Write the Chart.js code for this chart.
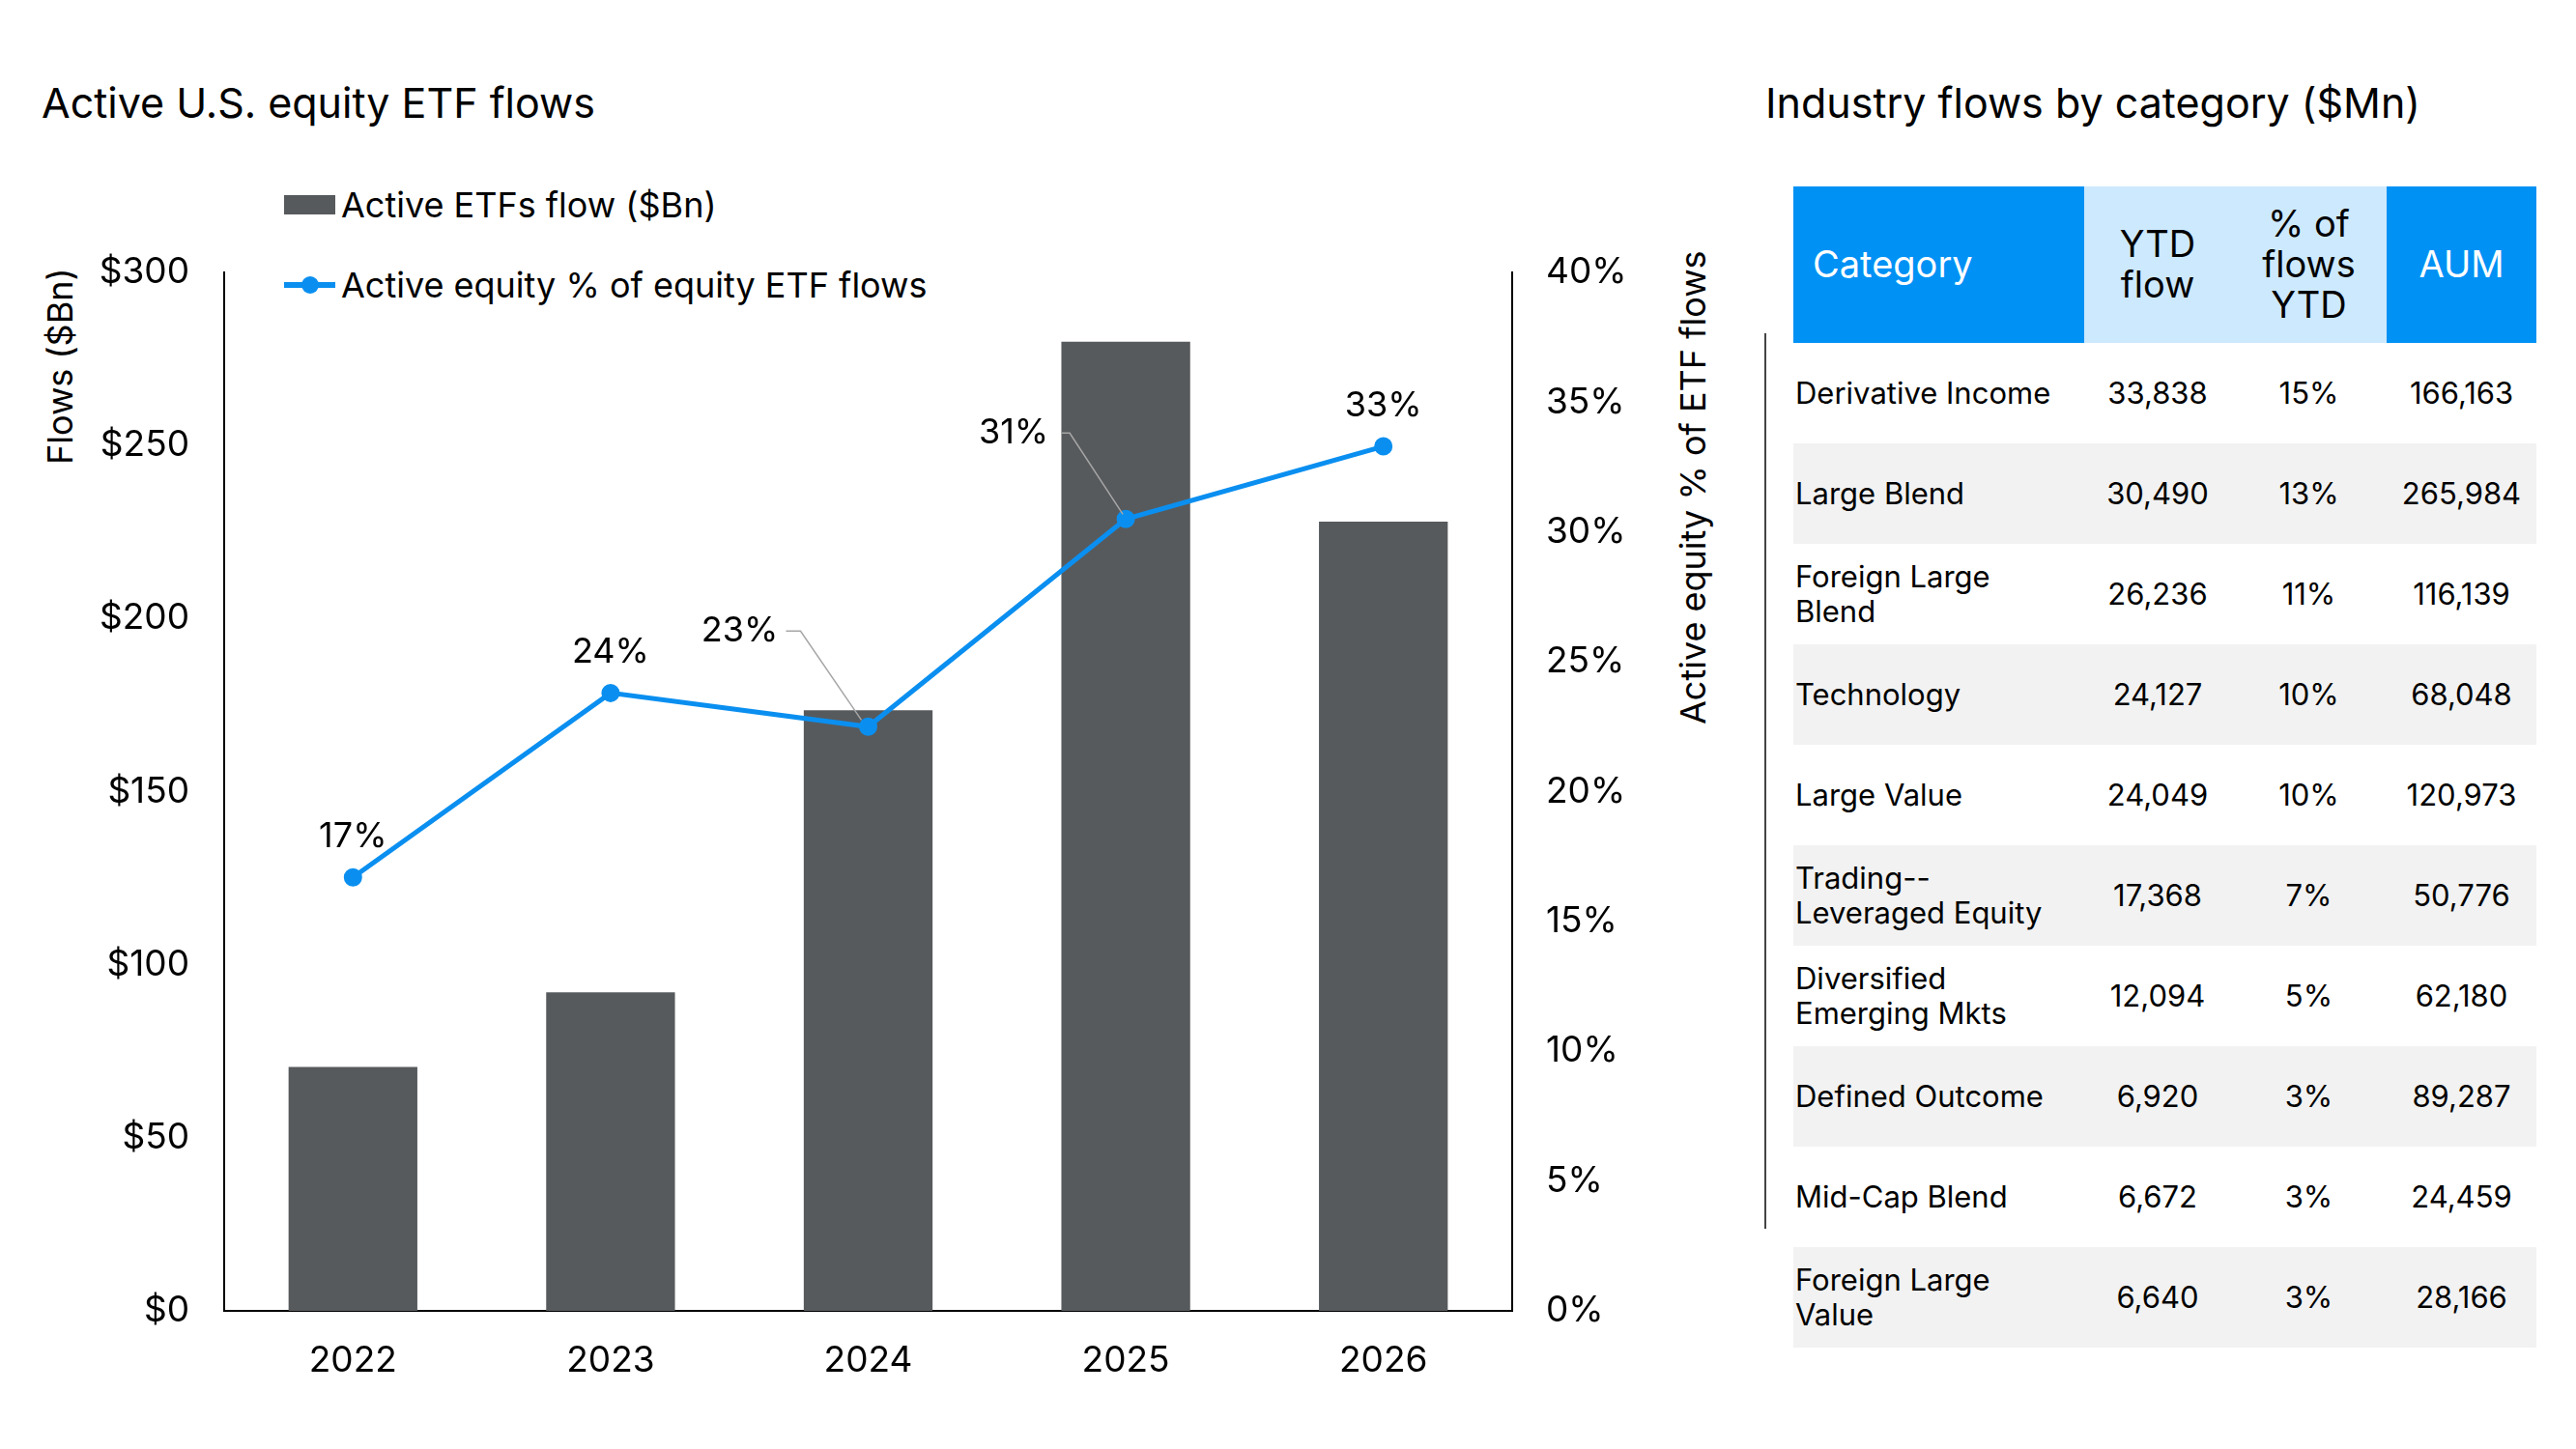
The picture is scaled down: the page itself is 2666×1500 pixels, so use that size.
<!DOCTYPE html>
<html>
<head>
<meta charset="utf-8">
<script src="https://cdn.jsdelivr.net/npm/chart.js@4.4.1/dist/chart.umd.min.js"></script>
<style>
  html, body { margin: 0; padding: 0; background: #fff; }
  body { width: 2666px; height: 1500px; position: relative; overflow: hidden; font-family: Inter, "Liberation Sans", sans-serif; color: #000; }
  #chartBox { position: absolute; left: 0; top: 0; width: 1800px; height: 1500px; }
  .title { position: absolute; font-size: 43px; white-space: nowrap; }
  .legend { position: absolute; left: 294px; font-size: 36px; white-space: nowrap; display: flex; align-items: center; }
  .swatch { width: 53px; height: 20px; background: #575a5d; margin-right: 6px; }
  .lineswatch { position: relative; width: 53px; height: 6px; background: #0a8ff0; margin-right: 6px; }
  .lineswatch::after { content: ""; position: absolute; left: 18px; top: -6px; width: 18px; height: 18px; border-radius: 50%; background: #0a8ff0; }
  .axisTitle { position: absolute; font-size: 36px; white-space: nowrap; transform-origin: 0 0; transform: rotate(-90deg); }
  #tbl { position: absolute; left: 1856px; top: 193px; border-collapse: collapse; table-layout: fixed; font-size: 31px; }
  #tbl th { font-weight: normal; font-size: 38px; height: 162px; line-height: 1.1; padding: 0; }
  #tbl td { height: 104px; padding: 0; text-align: center; line-height: 1.15; }
  #tbl td.cat { text-align: left; padding-left: 2px; }
  #tbl tr:nth-child(even) td { background: #f2f2f2; }
  #vline { position: absolute; left: 1826px; top: 345px; width: 2px; height: 927px; background: #444; }
</style>
</head>
<body>
<div class="title" style="left:43px; top:80px;">Active U.S. equity ETF flows</div>
<div class="legend" style="top:190px;"><div class="swatch"></div><span id="lg0"></span></div>
<div class="legend" style="top:273px;"><div class="lineswatch"></div><span id="lg1"></span></div>
<div class="axisTitle" id="yTitleL" style="left:40px; top:481px;"></div>
<div class="axisTitle" id="yTitleR" style="left:1730px; top:750px;"></div>
<div id="chartBox"><canvas id="myChart"></canvas></div>

<div class="title" style="left:1827px; top:80px;">Industry flows by category ($Mn)</div>
<div id="vline"></div>
<table id="tbl">
  <colgroup><col style="width:301px"><col style="width:152px"><col style="width:161px"><col style="width:155px"></colgroup>
  <thead><tr id="hdr"></tr></thead>
  <tbody id="body"></tbody>
</table>

<script>
// left chart
const years = ['2022', '2023', '2024', '2025', '2026'];
const flowsBn = [70.5, 92, 173.5, 280, 228];
const activeSharePct = [16.7, 23.8, 22.5, 30.5, 33.3];
const shareLabels = ['17%', '24%', '23%', '31%', '33%'];
const barLabel = 'Active ETFs flow ($Bn)';
const lineLabel = 'Active equity % of equity ETF flows';
const leftAxisTitle = 'Flows ($Bn)';
const rightAxisTitle = 'Active equity % of ETF flows';

// right table
const tableHeaders = ['Category', 'YTD<br>flow', '% of<br>flows<br>YTD', 'AUM'];
const categories = ['Derivative Income', 'Large Blend', 'Foreign Large<br>Blend', 'Technology', 'Large Value',
  'Trading--<br>Leveraged Equity', 'Diversified<br>Emerging Mkts', 'Defined Outcome', 'Mid-Cap Blend', 'Foreign Large<br>Value'];
const ytdFlow = ['33,838', '30,490', '26,236', '24,127', '24,049', '17,368', '12,094', '6,920', '6,672', '6,640'];
const pctOfFlows = ['15%', '13%', '11%', '10%', '10%', '7%', '5%', '3%', '3%', '3%'];
const aum = ['166,163', '265,984', '116,139', '68,048', '120,973', '50,776', '62,180', '89,287', '24,459', '28,166'];

document.getElementById('lg0').textContent = barLabel;
document.getElementById('lg1').textContent = lineLabel;
document.getElementById('yTitleL').textContent = leftAxisTitle;
document.getElementById('yTitleR').textContent = rightAxisTitle;

const hdrBg = ['#0091f5', '#cde9fd', '#cde9fd', '#0091f5'];
const hdrFg = ['#fff', '#000', '#000', '#fff'];
document.getElementById('hdr').innerHTML = tableHeaders.map((h, i) =>
  '<th style="background:' + hdrBg[i] + ';color:' + hdrFg[i] + ';text-align:' + (i === 0 ? 'left;padding-left:20px' : 'center') + '">' + h + '</th>').join('');
document.getElementById('body').innerHTML = categories.map((c, i) =>
  '<tr><td class="cat">' + c + '</td><td>' + ytdFlow[i] + '</td><td>' + pctOfFlows[i] + '</td><td>' + aum[i] + '</td></tr>').join('');

// point labels, two of them pulled out with a leader line
const pointLabels = {
  id: 'pointLabels',
  afterDatasetsDraw(chart) {
    const meta = chart.getDatasetMeta(1);
    const ctx = chart.ctx;
    const offs = [[0, -42], [0, -42], [-133, -99], [-116, -89], [0, -42]];
    const leaders = { 2: [[-85, -99], [-70, -99], [-7, -7]], 3: [[-67, -89], [-58, -89], [-3, -5]] };
    ctx.save();
    meta.data.forEach((pt, i) => {
      if (leaders[i]) {
        ctx.strokeStyle = '#a6a6a6';
        ctx.lineWidth = 1.5;
        ctx.beginPath();
        leaders[i].forEach((p, k) => k ? ctx.lineTo(pt.x + p[0], pt.y + p[1]) : ctx.moveTo(pt.x + p[0], pt.y + p[1]));
        ctx.stroke();
      }
      ctx.fillStyle = '#000';
      ctx.font = '36px Inter';
      ctx.textAlign = 'center';
      ctx.textBaseline = 'middle';
      ctx.fillText(shareLabels[i], pt.x + offs[i][0], pt.y + offs[i][1]);
    });
    ctx.restore();
  }
};

var ctx = document.getElementById('myChart').getContext('2d');
Chart.defaults.font.family = 'Inter';
Chart.defaults.font.size = 37;
Chart.defaults.color = '#000';

var myChart = new Chart(ctx, {
  type: 'bar',
  data: {
    labels: years,
    datasets: [{
      type: 'bar',
      label: barLabel,
      data: flowsBn,
      backgroundColor: '#575a5d',
      yAxisID: 'y',
      order: 1,
      categoryPercentage: 1,
      barPercentage: 0.5
    }, {
      type: 'line',
      label: lineLabel,
      data: activeSharePct,
      borderColor: '#0a8ff0',
      backgroundColor: '#0a8ff0',
      borderWidth: 5,
      pointRadius: 7,
      pointHoverRadius: 7,
      yAxisID: 'y1',
      order: 0
    }]
  },
  plugins: [pointLabels],
  options: {
    responsive: true,
    maintainAspectRatio: false,
    animation: false,
    layout: { padding: { top: 282, left: 0, right: 0, bottom: 0 } },
    plugins: { legend: { display: false }, tooltip: { enabled: false } },
    scales: {
      x: {
        grid: { display: false },
        border: { display: true, color: '#000', width: 2 },
        ticks: { padding: 22 },
        afterFit: (s) => { s.height = 143; }
      },
      y: {
        position: 'left',
        min: 0, max: 300,
        grid: { display: false },
        border: { display: true, color: '#000', width: 2 },
        ticks: { stepSize: 50, padding: 28, callback: (v) => '$' + v },
        afterFit: (s) => { s.width = 232; }
      },
      y1: {
        position: 'right',
        min: 0, max: 40,
        grid: { display: false },
        border: { display: true, color: '#000', width: 2 },
        ticks: { stepSize: 5, padding: 27, callback: (v) => v + '%' },
        afterFit: (s) => { s.width = 235; }
      }
    }
  }
});
</script>
</body>
</html>
